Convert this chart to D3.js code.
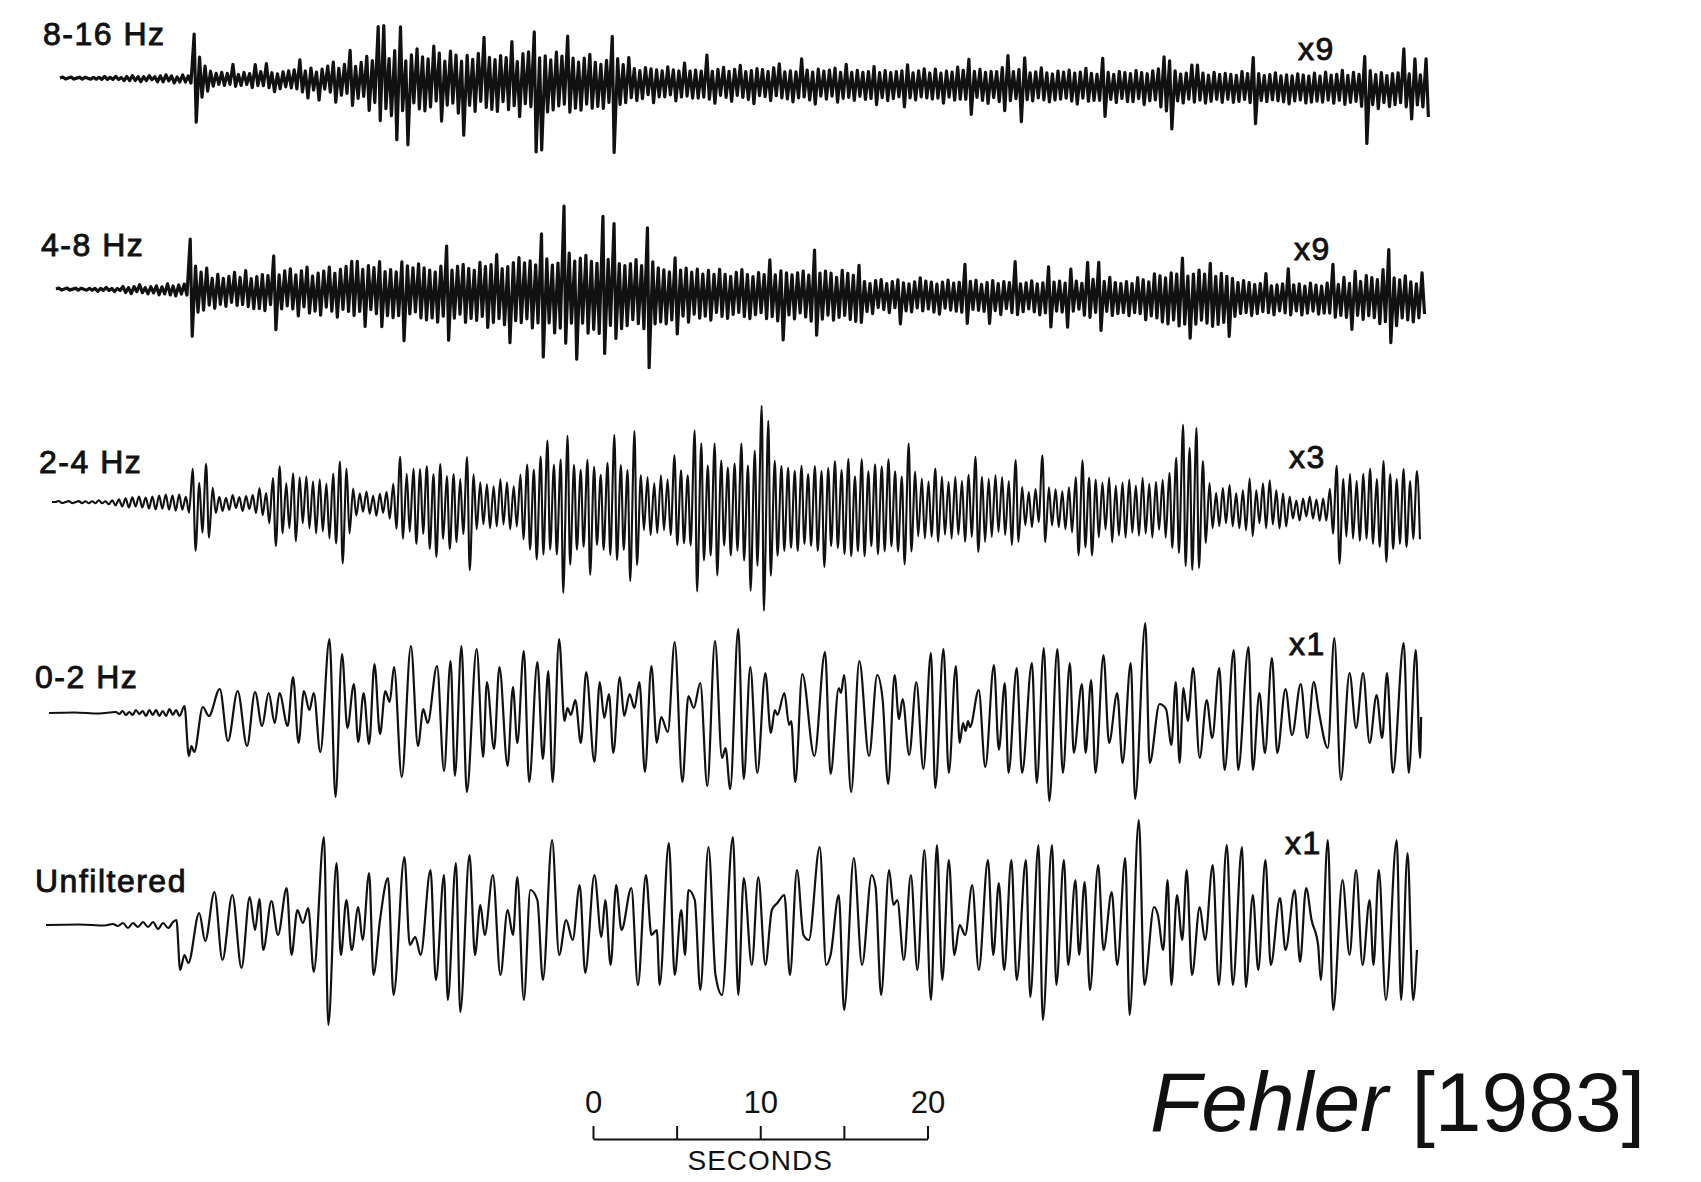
<!DOCTYPE html>
<html>
<head>
<meta charset="utf-8">
<title>Band-passed seismograms - Fehler [1983]</title>
<script src="https://cdn.jsdelivr.net/npm/d3@7"></script>
<style>
    html, body { margin: 0; padding: 0; background: #fff; }
    svg { display: block; }
    text { font-family: "Liberation Sans", Arial, Helvetica, sans-serif; fill: #111; }
</style>
</head>
<body>
<div id="chart"></div>
<script>
/* --- Data --- */

const bandLabels = ["8-16 Hz", "4-8 Hz", "2-4 Hz", "0-2 Hz", "Unfiltered"];
const gainLabels = ["x9", "x9", "x3", "x1", "x1"];

// seconds between successive picked extrema for the three dense traces
const sampleStep = [1 / 6, 1 / 6, 0.2];

// 8-16 Hz, peak/trough amplitudes every 1/6 s (12 per 2 s row)
const band8to16 = [
    0, 1, -1, 0, 1, -1, 0, 1, -1, 1, 0, -1,
    1, -1, 1, -1, 2, -1, 1, -1, 2, -1, 1, -2,
    2, -2, 3, -2, 2, -3, 2, -2, 3, -1, 2, -3,
    3, -3, 4, -2, 3, -4, 2, -3, 4, -3, 3, -4,
    45, -43, 22, -18, 13, -12, 8, -7, 6, -5, 7, -6,
    6, -5, 15, -7, 5, -6, 7, -5, 6, -8, 15, -6,
    8, -6, 16, -8, 7, -12, 6, -9, 8, -7, 9, -8,
    10, -9, 20, -12, 9, -18, 12, -10, 8, -20, 11, -9,
    14, -12, 18, -22, 12, -15, 16, -13, 30, -25, 14, -18,
    18, -16, 24, -30, 20, -22, 54, -40, 55, -28, 22, -35,
    30, -59, 54, -30, 20, -64, 26, -22, 32, -28, 24, -30,
    22, -26, 35, -20, 28, -40, 20, -24, 30, -22, 26, -32,
    20, -54, 26, -24, 22, -30, 28, -20, 44, -26, 24, -28,
    22, -30, 26, -20, 24, -28, 40, -24, 20, -35, 28, -22,
    30, -25, 50, -70, 24, -68, 26, -30, 22, -28, 30, -24,
    26, -22, 46, -30, 24, -26, 20, -28, 24, -22, 28, -26,
    20, -24, 18, -26, 22, -20, 46, -70, 24, -22, 18, -20,
    25, -15, 14, -18, 12, -16, 15, -12, 14, -20, 13, -14,
    12, -14, 16, -12, 13, -18, 12, -14, 20, -13, 12, -15,
    13, -15, 12, -14, 28, -16, 12, -20, 14, -12, 16, -14,
    12, -18, 14, -12, 18, -14, 12, -16, 13, -20, 15, -12,
    14, -13, 12, -17, 16, -12, 20, -14, 12, -15, 13, -18,
    12, -14, 25, -13, 14, -16, 12, -20, 15, -12, 13, -15,
    14, -12, 16, -18, 12, -14, 20, -13, 12, -16, 14, -12,
    12, -15, 13, -14, 18, -20, 12, -13, 14, -16, 12, -14,
    13, -12, 14, -22, 20, -13, 12, -15, 14, -12, 16, -13,
    12, -14, 16, -13, 12, -18, 14, -12, 13, -15, 18, -14,
    15, -14, 26, -29, 14, -12, 16, -15, 13, -18, 14, -12,
    14, -16, 18, -25, 30, -15, 14, -13, 16, -36, 28, -14,
    13, -15, 14, -12, 18, -14, 13, -16, 12, -14, 15, -13,
    14, -12, 16, -15, 13, -18, 14, -12, 18, -15, 13, -14,
    12, -14, 28, -30, 14, -13, 12, -16, 15, -12, 14, -15,
    13, -15, 16, -12, 14, -18, 13, -14, 16, -13, 18, -20,
    30, -24, 26, -42, 16, -14, 13, -16, 14, -12, 22, -15,
    22, -13, 14, -16, 12, -14, 15, -12, 13, -15, 14, -12,
    13, -15, 12, -14, 16, -12, 14, -15, 30, -36, 14, -13,
    12, -14, 13, -12, 15, -13, 12, -14, 13, -16, 12, -13,
    14, -12, 13, -15, 12, -14, 15, -13, 12, -14, 16, -12,
    13, -15, 14, -12, 18, -16, 13, -14, 16, -13, 14, -18,
    32, -55, 18, -16, 14, -20, 16, -14, 13, -18, 15, -16,
    16, -14, 40, -18, 15, -30, 30, -16, 14, -18, 30, -28
];

// 4-8 Hz, every 1/6 s
const band4to8 = [
    0, 1, -1, 0, 1, -1, 0, 1, -1, 1, 0, -1,
    1, -1, 1, -2, 1, -1, 2, -1, 1, -2, 1, -1,
    3, -3, 2, -4, 3, -2, 5, -3, 2, -4, 3, -3,
    4, -5, 3, -4, 6, -5, 4, -6, 5, -4, 6, -5,
    51, -46, 24, -22, 18, -20, 22, -15, 12, -18, 16, -14,
    12, -16, 14, -12, 18, -15, 13, -14, 20, -16, 12, -18,
    14, -18, 16, -20, 15, -14, 35, -39, 16, -18, 20, -15,
    22, -18, 16, -25, 20, -16, 24, -22, 15, -20, 18, -24,
    20, -16, 24, -20, 18, -26, 22, -18, 25, -20, 30, -24,
    30, -20, 22, -35, 26, -18, 24, -22, 30, -35, 20, -24,
    22, -26, 20, -24, 30, -49, 26, -22, 24, -20, 28, -26,
    24, -28, 22, -26, 20, -30, 26, -24, 46, -48, 22, -26,
    26, -22, 28, -30, 24, -26, 22, -28, 30, -24, 26, -35,
    28, -30, 38, -26, 24, -32, 26, -50, 30, -28, 35, -30,
    30, -26, 32, -35, 28, -30, 59, -64, 34, -30, 28, -40,
    30, -35, 87, -50, 40, -30, 32, -66, 35, -30, 38, -40,
    32, -36, 30, -40, 77, -60, 34, -32, 70, -45, 30, -35,
    28, -32, 30, -26, 34, -30, 28, -35, 66, -74, 32, -30,
    26, -28, 24, -30, 22, -26, 36, -40, 24, -22, 26, -28,
    22, -20, 25, -24, 20, -22, 24, -26, 20, -18, 25, -22,
    20, -24, 18, -20, 22, -18, 25, -22, 20, -24, 18, -20,
    22, -18, 20, -24, 35, -22, 20, -26, 24, -45, 22, -20,
    20, -24, 22, -18, 24, -22, 20, -26, 45, -40, 22, -24,
    24, -20, 22, -25, 18, -22, 25, -20, 22, -24, 20, -26,
    30, -27, 14, -16, 12, -18, 15, -12, 16, -14, 12, -17,
    14, -12, 16, -28, 13, -15, 12, -16, 14, -12, 18, -15,
    15, -13, 14, -16, 12, -18, 14, -12, 16, -14, 13, -15,
    14, -16, 32, -27, 15, -13, 16, -14, 12, -15, 14, -27,
    16, -14, 13, -18, 15, -12, 14, -16, 35, -18, 13, -15,
    14, -12, 16, -15, 13, -18, 14, -16, 30, -30, 15, -14,
    16, -15, 14, -30, 28, -14, 16, -12, 14, -18, 35, -20,
    18, -15, 35, -33, 16, -14, 20, -18, 15, -16, 14, -15,
    16, -18, 14, -15, 20, -16, 18, -22, 16, -18, 24, -20,
    22, -24, 20, -26, 25, -22, 24, -28, 40, -26, 22, -40,
    24, -26, 28, -22, 24, -25, 35, -28, 22, -26, 25, -24,
    22, -38, 20, -18, 16, -15, 18, -14, 16, -17, 14, -15,
    15, -13, 25, -14, 13, -16, 14, -12, 15, -14, 30, -16,
    14, -12, 15, -16, 13, -14, 16, -12, 14, -15, 13, -14,
    16, -14, 35, -18, 15, -16, 22, -18, 16, -30, 28, -16,
    18, -20, 24, -16, 22, -18, 20, -24, 30, -22, 50, -43,
    22, -26, 20, -18, 24, -20, 18, -22, 16, -18, 27, -14
];

// 2-4 Hz, every 0.2 s (10 per 2 s row)
const band2to4 = [
    0, 0, 1, -1, 0, 1, -1, 0, 1, -1,
    1, -1, 1, -1, 2, -1, 1, -2, 2, -3,
    3, -4, 4, -5, 5, -4, 6, -5, 5, -6,
    6, -7, 7, -6, 8, -7, 7, -8, 8, -7,
    6, -10, 34, -48, 20, -30, 39, -35, 15, -10,
    6, -8, 5, -7, 8, -5, 6, -8, 7, -6,
    8, -10, 15, -12, 10, -20, 25, -43, 37, -30,
    20, -25, 30, -38, 26, -20, 27, -25, 22, -30,
    24, -28, 20, -35, 30, -40, 42, -60, 35, -30,
    15, -12, 10, -8, 12, -10, 8, -12, 10, -9,
    12, -15, 20, -25, 47, -35, 30, -28, 35, -40,
    35, -30, 38, -45, 30, -53, 40, -35, 28, -45,
    30, -38, 25, -30, 47, -66, 30, -25, 22, -20,
    20, -24, 18, -22, 25, -20, 22, -25, 18, -22,
    30, -35, 40, -45, 35, -55, 48, -50, 64, -45,
    40, -50, 45, -88, 69, -60, 40, -45, 35, -42,
    45, -70, 38, -40, 30, -45, 42, -50, 70, -55,
    40, -45, 35, -76, 74, -60, 30, -25, 28, -30,
    22, -28, 30, -25, 26, -30, 50, -40, 35, -38,
    30, -40, 75, -86, 62, -55, 40, -50, 62, -70,
    45, -40, 38, -50, 42, -45, 62, -55, 40, -85,
    55, -60, 100, -105, 85, -70, 45, -50, 40, -45,
    38, -42, 35, -45, 40, -38, 32, -40, 40, -45,
    35, -61, 38, -40, 45, -42, 36, -48, 47, -50,
    30, -45, 47, -50, 35, -40, 42, -48, 40, -45,
    47, -40, 35, -45, 30, -58, 63, -45, 35, -30,
    28, -32, 25, -30, 38, -35, 30, -28, 25, -32,
    30, -28, 26, -35, 32, -30, 50, -45, 30, -35,
    28, -30, 32, -25, 30, -28, 26, -38, 47, -35,
    20, -18, 15, -20, 18, -15, 52, -35, 20, -18,
    18, -20, 16, -22, 20, -25, 30, -48, 47, -40,
    30, -48, 28, -30, 25, -22, 30, -35, 22, -28,
    25, -30, 28, -25, 22, -28, 30, -26, 24, -30,
    26, -22, 28, -30, 35, -40, 50, -45, 83, -58,
    60, -62, 80, -60, 47, -35, 25, -20, 15, -18,
    20, -15, 23, -18, 15, -20, 18, -22, 30, -28,
    18, -15, 25, -20, 28, -16, 18, -20, 15, -18,
    12, -10, 8, -12, 10, -8, 12, -10, 9, -12,
    10, -12, 20, -25, 43, -55, 30, -28, 35, -30,
    28, -32, 35, -30, 40, -35, 30, -38, 48, -53,
    35, -40, 30, -35, 40, -38, 28, -30, 38, -30
];

// 0-2 Hz, [seconds, amplitude] at each turning point
const band0to2 = [
    [0, 0], [1.5, 0.5], [3, -0.5], [4, 1], [4.2, -1], [4.4, 2], [4.6, -2], [4.8, 1], [5, -2], [5.2, 3],
    [5.4, -1], [5.6, 2], [5.8, -3], [6, 3], [6.2, -2], [6.4, 3], [6.6, -3], [6.8, 2], [7, -3], [7.2, 4],
    [7.4, -2], [7.6, 3], [7.8, -3],
    [8.1, 7], [8.36, -43], [8.52, -33], [8.68, -39], [9.2, 6], [9.56, -3], [10.21, 24], [10.7, -28],
    [11.28, 22], [11.84, -33], [12.32, 21], [12.74, -13], [13.13, 20], [13.5, -10], [13.78, 20],
    [14.27, -13], [14.59, 36], [14.92, -30], [15.24, 22], [15.57, 3], [15.83, 20], [16.22, -39],
    [16.77, 74], [17.13, -84], [17.52, 59], [17.84, -15], [18.23, 29], [18.49, -29], [18.81, 20],
    [19.14, -31], [19.46, 49], [19.79, -21], [20.11, 22], [20.37, 11], [20.63, 46], [21.09, -64],
    [21.64, 67], [22.06, -33], [22.38, 4], [22.64, -10], [23.2, 47], [23.62, -58], [24.01, 52],
    [24.27, -63], [24.66, 67], [24.98, -79], [25.57, 64], [25.96, -44], [26.18, 31], [26.61, -36],
    [26.93, 46], [27.42, -53], [27.74, 26], [28, -30], [28.39, 62], [28.71, -69], [29.2, 51],
    [29.53, -46], [29.85, 42], [30.11, -69], [30.5, 74], [30.82, -8], [31, 5], [31.2, -2], [31.47, 13],
    [31.8, -30], [32.12, 41], [32.61, -49], [32.93, 31], [33.2, -5], [33.48, 19], [33.74, -40],
    [34.13, 36], [34.39, -3], [34.72, 19], [35, 5], [35.3, 31], [35.63, -59], [36.02, 47], [36.34, -30],
    [36.6, -4], [37, -19], [37.41, 71], [37.87, -69], [38.23, 17], [38.55, 5], [38.94, 30], [39.36, -73],
    [39.82, 72], [40.24, -45], [40.45, -35], [40.73, -76], [41.21, 84], [41.54, -66], [41.93, 46],
    [42.35, -60], [42.83, 40], [43.16, -20], [43.4, 3], [43.55, -2], [43.97, 20], [44.25, -12],
    [44.38, -8], [44.62, -69], [45.04, 39], [45.76, -43], [46.4, 61], [46.73, -61], [47.22, 25],
    [47.35, 20], [47.54, 38], [47.96, -79], [48.45, 52], [49.03, -43], [49.52, 38], [49.84, 14],
    [50.17, -71], [50.56, 38], [50.82, -6], [51.04, 14], [51.43, -42], [51.86, 31], [52.28, -56],
    [52.73, 60], [52.99, -75], [53.48, 64], [53.8, -60], [54.22, 47], [54.45, -30], [54.65, -10],
    [54.8, -18], [54.95, -8], [55.07, -14], [55.59, 23], [55.98, -54], [56.5, 48], [56.79, -37],
    [57.15, 30], [57.37, -60], [57.86, 45], [58.18, -60], [58.77, 50], [59.06, -70], [59.48, 65],
    [59.81, -88], [60.29, 64], [60.62, -60], [61.04, 50], [61.27, -40], [61.76, 29], [61.98, -40],
    [62.31, 33], [62.57, -60], [63.05, 58], [63.38, -30], [63.87, 20], [64.19, -50], [64.68, 50],
    [64.94, -86], [65.55, 90], [65.81, -50], [66.4, 9], [66.79, 4], [67.11, -32], [67.37, 31],
    [67.6, -50], [67.83, 25], [68.09, -8], [68.41, 45], [68.8, -45], [69.22, 13], [69.55, -25],
    [69.97, 45], [70.29, -57], [70.84, 63], [71.1, -57], [71.72, 66], [71.98, -57], [72.37, 20],
    [72.7, -40], [73.12, 55], [73.44, -40], [73.93, 24], [74.32, -22], [74.84, 29], [75.23, -25],
    [75.62, 31], [75.94, 0], [76.46, -35], [76.85, 75], [77.24, -67], [77.76, 40], [78.15, -15],
    [78.57, 40], [78.96, -30], [79.38, 18], [79.71, -25], [80, 40], [80.35, -60], [81, 70],
    [81.3, -60], [81.72, 63], [81.98, -45], [82.04, -4]
];

// Unfiltered, [seconds, amplitude] at each turning point
const unfiltered = [
    [0, 0], [2, 0.5], [3.5, -0.5], [4, 1], [4.3, -1], [4.6, 2], [4.9, -3], [5.2, 2], [5.5, -2], [5.8, 3],
    [6.1, -2], [6.4, 3], [6.7, -4], [7, 2], [7.3, -3], [7.6, 3],
    [7.8, 5], [8.02, -45], [8.28, -30], [8.51, -38], [9.16, 12], [9.52, -16], [10.07, 33], [10.55, -35],
    [11.14, 30], [11.69, -43], [12.18, 28], [12.5, -5], [12.76, 26], [12.99, -25], [13.48, 24],
    [13.87, -10], [14.39, 37], [14.68, -30], [15.03, 15], [15.36, 2], [15.68, 17], [16.01, -47],
    [16.62, 88], [16.88, -100], [17.37, 62], [17.63, -30], [17.96, 25], [18.28, -25], [18.67, 18],
    [18.93, -15], [19.32, 52], [19.58, -50], [19.97, 5], [20.45, 47], [20.78, -70], [21.43, 68],
    [21.75, -20], [22.08, -12], [22.4, -30], [22.99, 55], [23.31, -55], [23.8, 50], [24.02, -75],
    [24.51, 62], [24.77, -87], [25.32, 70], [25.65, -30], [25.97, 20], [26.23, -10], [26.72, 50],
    [27.17, -50], [27.6, 15], [27.92, -10], [28.18, 48], [28.57, -75], [28.96, 35], [29.38, 25],
    [29.71, -55], [30.26, 85], [30.68, -30], [31.1, 5], [31.49, -15], [31.91, 40], [32.24, -48],
    [32.79, 50], [33.21, -12], [33.44, 25], [33.76, -40], [34.09, 40], [34.41, -5], [35, 37],
    [35.39, -60], [35.87, 50], [36.2, -10], [36.52, -5], [36.69, -60], [37.24, 82], [37.59, -50],
    [37.98, 15], [38.21, -30], [38.41, 35], [38.79, 25], [39.12, -65], [39.61, 78], [40.03, -50],
    [40.42, -70], [41.07, 88], [41.39, -70], [41.72, 47], [42.2, -40], [42.59, 48], [43.01, -40],
    [43.4, 15], [43.73, 22], [44.15, 30], [44.48, -50], [44.9, 55], [45.29, -10], [45.61, -15],
    [46.26, 78], [46.65, -40], [46.91, -30], [47.4, 30], [47.72, -85], [48.3, 67], [48.79, -40],
    [49.37, 50], [49.6, 38], [49.93, -70], [50.41, 55], [50.67, 20], [50.9, 25], [51.29, -35],
    [51.71, 50], [52.1, -45], [52.52, 75], [52.91, -75], [53.27, 80], [53.59, -55], [53.98, 65],
    [54.31, -30], [54.63, 0], [54.96, -10], [55.38, 40], [55.77, -45], [56.32, 65], [56.64, -30],
    [56.97, 42], [57.29, -45], [57.72, 65], [58.04, -55], [58.59, 65], [58.85, -72], [59.34, 80],
    [59.6, -95], [60.15, 80], [60.41, -60], [60.86, 65], [61.12, -40], [61.55, 45], [61.77, -30],
    [62.1, 43], [62.42, -65], [62.91, 60], [63.23, -25], [63.72, 33], [64.05, -40], [64.53, 67],
    [64.79, -90], [65.34, 105], [65.67, -60], [66.25, 18], [66.48, 10], [66.8, -25], [67.06, 45],
    [67.29, -60], [67.62, 30], [67.94, -15], [68.2, 55], [68.52, -50], [68.98, 18], [69.3, -15],
    [69.76, 60], [70.12, -60], [70.6, 80], [70.96, -60], [71.51, 78], [71.74, -62], [72.16, 30],
    [72.48, -45], [72.91, 65], [73.23, -40], [73.78, 27], [74.11, -25], [74.66, 35], [74.98, -37],
    [75.34, 37], [75.67, 5], [76.06, -20], [76.22, -55], [76.64, 85], [76.96, -85], [77.52, 45],
    [77.94, -30], [78.33, 55], [78.72, -40], [79.14, 25], [79.37, -40], [79.69, 55], [80.11, -75],
    [80.76, 85], [81.02, -75], [81.41, 72], [81.74, -75], [81.97, -25]
];

// time scale bar
const barTicks = [0, 5, 10, 15, 20];
const barLabels = [0, 10, 20];
const barTitle = "SECONDS";
const citeAuthor = "Fehler";
const citeYear = "[1983]";

/* --- Layout --- */
const CONFIG = {
    width: 1701,
    height: 1182,
    px20s: 334.5,          // length of 20 s on the page
    ink: "#111",
    labelSize: 32,
    traces: [
        { x: 60, y: 78,  tilt: 0.46, stroke: 3.2, curve: d3.curveLinear,     label: [43, 45],  gain: [1298, 60] },
        { x: 56, y: 289, tilt: 0.46, stroke: 3.2, curve: d3.curveLinear,     label: [41, 256], gain: [1294, 260] },
        { x: 52, y: 502, tilt: 0.3,  stroke: 2.1, curve: d3.curveMonotoneX, label: [39, 473], gain: [1289, 468] },
        { x: 49, y: 713, tilt: 0,    stroke: 2.2, curve: d3.curveMonotoneX, label: [35, 688], gain: [1289, 655] },
        { x: 46, y: 925, tilt: 0,    stroke: 2.2, curve: d3.curveMonotoneX, label: [35, 892], gain: [1285, 854] }
    ],
    bar: { x: 593, y: 1139, tick: 13 },
    cite: { x: 1150, y: 1131, size: 84 }
};

const series = [
    band8to16.map((v, i) => [i * sampleStep[0], v]),
    band4to8.map((v, i) => [i * sampleStep[1], v]),
    band2to4.map((v, i) => [i * sampleStep[2], v]),
    band0to2,
    unfiltered
];

/* --- Drawing --- */
const svg = d3.select("#chart").append("svg")
    .attr("width", CONFIG.width)
    .attr("height", CONFIG.height);

svg.append("rect")
    .attr("width", CONFIG.width)
    .attr("height", CONFIG.height)
    .attr("fill", "#fff");

const time = d3.scaleLinear().domain([0, 20]).range([0, CONFIG.px20s]);
const amp = d3.scaleLinear().domain([-100, 100]).range([100, -100]);

// Traces
CONFIG.traces.forEach((tr, i) => {
    const line = d3.line()
        .x(d => time(d[0]))
        .y(d => amp(d[1]))
        .curve(tr.curve);

    svg.append("g")
        .attr("transform", `translate(${tr.x},${tr.y}) rotate(${tr.tilt})`)
        .append("path")
        .datum(series[i])
        .attr("d", line)
        .attr("fill", "none")
        .attr("stroke", CONFIG.ink)
        .attr("stroke-width", tr.stroke)
        .attr("stroke-linejoin", "round");

    svg.append("text")
        .attr("x", tr.label[0])
        .attr("y", tr.label[1])
        .attr("font-size", CONFIG.labelSize)
        .attr("letter-spacing", 1.5)
        .attr("stroke", CONFIG.ink)
        .attr("stroke-width", 0.9)
        .text(bandLabels[i]);

    svg.append("text")
        .attr("x", tr.gain[0])
        .attr("y", tr.gain[1])
        .attr("font-size", CONFIG.labelSize)
        .attr("letter-spacing", 1.5)
        .attr("stroke", CONFIG.ink)
        .attr("stroke-width", 0.9)
        .text(gainLabels[i]);
});

// Scale bar
const bar = svg.append("g")
    .attr("transform", `translate(${CONFIG.bar.x},${CONFIG.bar.y})`)
    .call(d3.axisTop(time)
        .tickValues(barTicks)
        .tickSize(CONFIG.bar.tick)
        .tickSizeOuter(0)
        .tickPadding(13)
        .tickFormat(d => barLabels.includes(d) ? d : ""));

bar.select(".domain").attr("stroke", CONFIG.ink).attr("stroke-width", 2.2);
bar.selectAll(".tick line").attr("stroke", CONFIG.ink).attr("stroke-width", 2);
bar.selectAll(".tick text")
    .attr("fill", CONFIG.ink)
    .attr("font-family", "Liberation Sans, Arial, sans-serif")
    .attr("font-size", 31);

svg.append("text")
    .attr("x", CONFIG.bar.x + time(10))
    .attr("y", 1170)
    .attr("text-anchor", "middle")
    .attr("font-size", 28)
    .attr("letter-spacing", 1)
    .text(barTitle);

// Citation
const cite = svg.append("text")
    .attr("x", CONFIG.cite.x)
    .attr("y", CONFIG.cite.y)
    .attr("font-size", CONFIG.cite.size)
    .attr("fill", "#000");
cite.append("tspan").attr("font-style", "italic").text(citeAuthor);
cite.append("tspan").text(" " + citeYear);
</script>
</body>
</html>
